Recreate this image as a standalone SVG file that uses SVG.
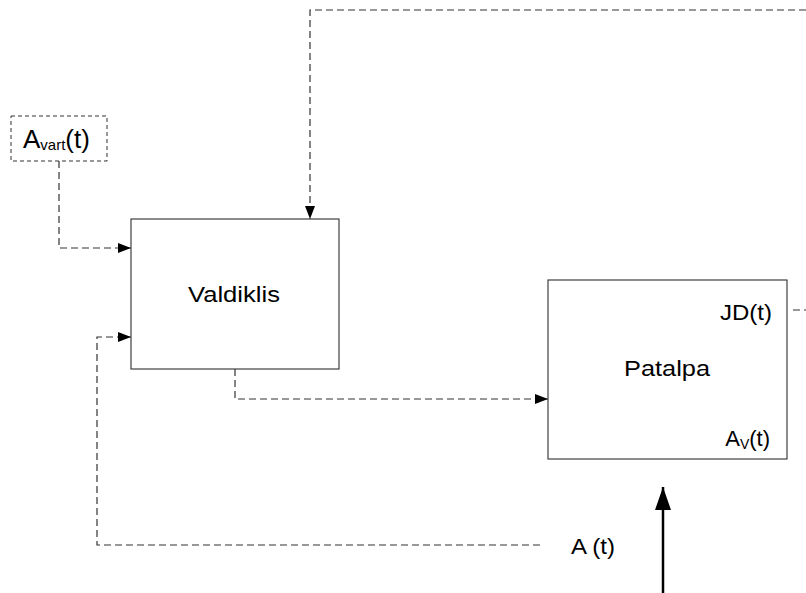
<svg xmlns="http://www.w3.org/2000/svg" width="806" height="593" viewBox="0 0 806 593">
  <defs>
    <marker id="arr" markerWidth="13" markerHeight="10" refX="13" refY="5" orient="auto" markerUnits="userSpaceOnUse">
      <path d="M0,0 L13,5 L0,10 Z" fill="#000"/>
    </marker>
    <marker id="arrBig" markerWidth="23" markerHeight="16" refX="23" refY="8" orient="auto" markerUnits="userSpaceOnUse">
      <path d="M0,0 L23,8 L0,16 Z" fill="#000"/>
    </marker>
  </defs>
  <style>
    .box { fill: #fff; stroke: #404040; stroke-width: 1.2; }
    .dbox { fill: #fff; stroke: #333; stroke-width: 1; stroke-dasharray: 4 3; }
    .dash { fill: none; stroke: #333; stroke-width: 1.2; stroke-dasharray: 7 4; }
    .solid { fill: none; stroke: #000; stroke-width: 2.5; }
    text { font-family: "Liberation Sans", Arial, sans-serif; font-size: 22px; fill: #000; }
    .sub { font-size: 14px; }
  </style>
  <rect width="806" height="593" fill="#fff"/>

  <g id="connectors">
    <!-- feedback from the top -->
    <path class="dash" d="M806,10 H310 V219" marker-end="url(#arr)"/>
    <!-- set point into controller -->
    <path class="dash" d="M59,161 V248 H131" marker-end="url(#arr)"/>
    <!-- measured value back into controller -->
    <path class="dash" d="M540,545 H97 V337 H131" marker-end="url(#arr)"/>
    <!-- controller output into room -->
    <path class="dash" d="M235,369 V399 H548" marker-end="url(#arr)"/>
    <!-- JD(t) output stub -->
    <path class="dash" d="M793,310 H806"/>
    <!-- disturbance input -->
    <path class="solid" d="M663,593 V487" marker-end="url(#arrBig)"/>
  </g>

  <g id="node-avart">
    <rect class="dbox" x="11" y="116" width="96" height="45"/>
    <text x="23" y="148" style="font-size:26px">A<tspan class="sub" style="font-size:15px" dy="2">vart</tspan><tspan dy="-2">(t)</tspan></text>
  </g>

  <g id="node-valdiklis">
    <rect class="box" x="131" y="219" width="208" height="150"/>
    <text x="188" y="302" textLength="92" lengthAdjust="spacingAndGlyphs">Valdiklis</text>
  </g>

  <g id="node-patalpa">
    <rect class="box" x="548" y="280" width="239" height="179"/>
    <text x="624" y="376" textLength="86" lengthAdjust="spacingAndGlyphs">Patalpa</text>
    <text x="720" y="320" textLength="52" lengthAdjust="spacingAndGlyphs">JD(t)</text>
    <text x="770" y="446" text-anchor="end">A<tspan class="sub" dy="3">V</tspan><tspan dy="-3">(t)</tspan></text>
  </g>

  <g id="label-a">
    <text x="571" y="554" textLength="44" lengthAdjust="spacingAndGlyphs">A (t)</text>
  </g>
</svg>
